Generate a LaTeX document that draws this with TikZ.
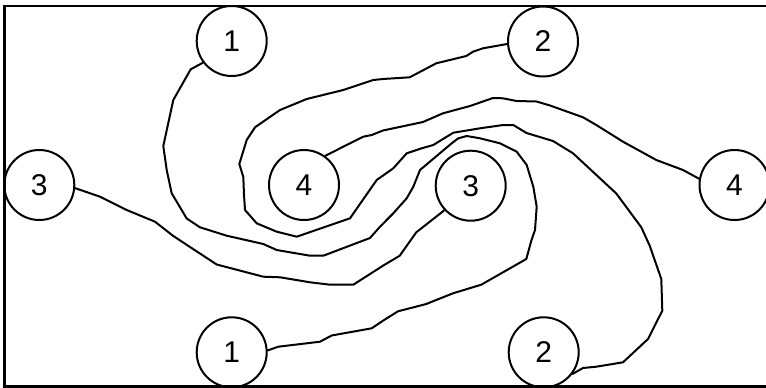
\documentclass[tikz,border=0pt]{standalone}
\usepackage{fontspec}
\setmainfont{Liberation Sans}
\begin{document}
\begin{tikzpicture}[x=1pt,y=-1pt,
  num/.style={draw,circle,line width=2pt,minimum size=70pt,inner sep=0pt,font=\fontsize{30}{32}\selectfont},
  wire/.style={line width=2pt,line join=round,line cap=round}]
\useasboundingbox (0,0) rectangle (766,388);
\clip (0,0) rectangle (766,388);
\draw[line width=2.3pt] (4.6,6) rectangle (790,386.6);
\node[num] (c1t) at (231.7,41) {1};
\node[num] (c2t) at (543,41.5) {2};
\node[num] (c3l) at (39.3,185) {3};
\node[num] (c4c) at (304,185) {4};
\node[num] (c3c) at (470.7,185.7) {3};
\node[num] (c4r) at (734.5,185) {4};
\node[num] (c1b) at (231.7,352.3) {1};
\node[num] (c2b) at (543.7,352.3) {2};
% curve 1
\draw[wire] (c1t.217) -- (190.7,69.3) -- (173.3,100) -- (163.3,146) -- (166.7,170) -- (171.7,193.3) -- (186.7,218.5) -- (200,227.3) -- (226.7,235.7) -- (263.3,244) -- (276.7,250) -- (310,255.7) -- (323.3,255.7) -- (370,238) -- (380,226.7) -- (393.3,213.3) -- (406.7,198.3) -- (413.3,186.7) -- (420,170) -- (451.7,143.3) -- (458.3,138.3) -- (466.7,136) -- (480,138.3) -- (500,143.3) -- (516.7,151.7) -- (526.7,165) -- (533.3,186.7) -- (536.7,206.7) -- (535,230) -- (531.3,240.7) -- (526.3,259) -- (481.3,284.7) -- (453,293.3) -- (426.3,304) -- (398,311.3) -- (383,320.7) -- (371.7,328.3) -- (331.7,335.5) -- (320,341.7) -- (278.3,346.7) -- (c1b.3);
% curve 2
\draw[wire] (c2t.184) -- (483,48.3) -- (473,51.7) -- (466.3,56) -- (436.3,63.3) -- (409.7,77.3) -- (383,79) -- (373.3,80) -- (343.3,90) -- (306.7,99) -- (280,110) -- (255,127.3) -- (246.7,140) -- (239.3,164) -- (243.3,177) -- (244,195) -- (245,210) -- (256.7,223.3) -- (276.7,231.7) -- (296.7,236.7) -- (350,218.3) -- (376.7,180) -- (393.3,168.3) -- (406.7,153.3) -- (421.7,148.3) -- (433.3,145) -- (453.3,132.7) -- (480,128.3) -- (503.3,125) -- (513.3,125) -- (526.5,133) -- (553,141) -- (573,153.3) -- (616.3,193.5) -- (641.3,227.3) -- (649.7,245.7) -- (661.3,279) -- (662.3,310.7) -- (648,339) -- (623,362.3) -- (596.3,366.7) -- (583,368) -- (c2b.323);
% curve 3
\draw[wire] (c3l.355) -- (100,196.7) -- (126.7,210) -- (155,221.7) -- (173.3,236) -- (216.7,264.5) -- (263.3,276.7) -- (280,277.3) -- (310,282.3) -- (330,284.7) -- (353.3,284.7) -- (383,265.7) -- (399.7,255.7) -- (416.3,232.3) -- (c3c.223);
% curve 4
\draw[wire] (c4c.54) -- (350,143.3) -- (363.3,136.7) -- (371.7,135) -- (383,130.5) -- (423,122) -- (443,113.3) -- (470,106) -- (493,98) -- (503,98.3) -- (516.5,101) -- (536.5,101.5) -- (550,105.5) -- (583,117.3) -- (596.3,125) -- (623,141.7) -- (656.3,160) -- (683,170) -- (c4r.170);
\end{tikzpicture}
\end{document}
